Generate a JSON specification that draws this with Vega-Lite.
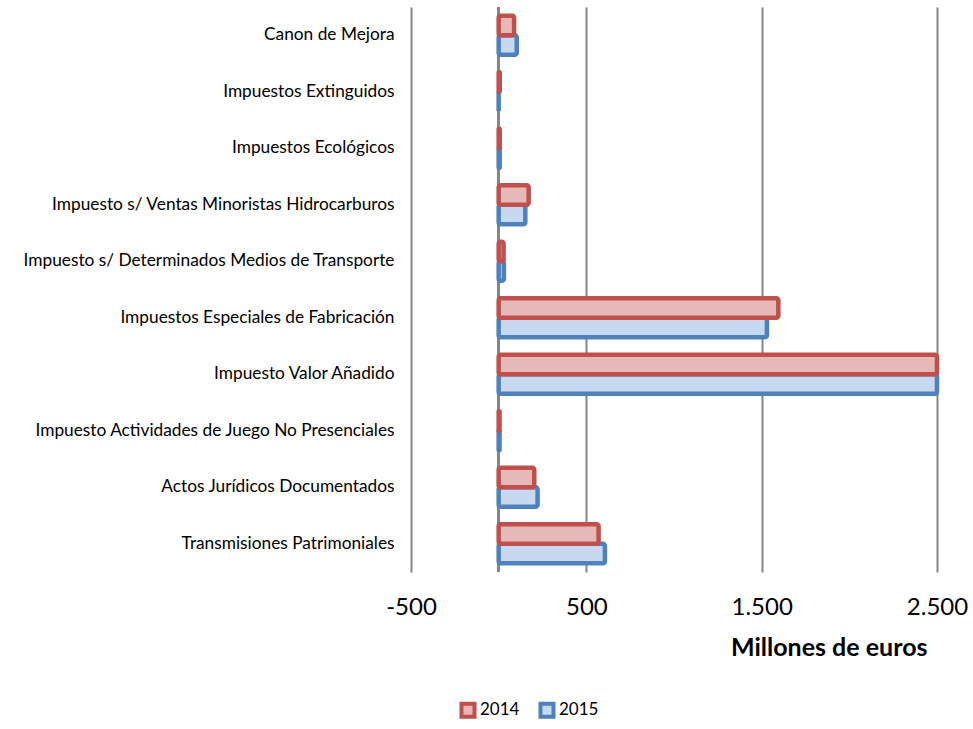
{
  "$schema": "https://vega.github.io/schema/vega-lite/v6.json",
  "width": 526,
  "height": 565,
  "autosize": "none",
  "padding": {"left": 411, "top": 7, "right": 36, "bottom": 157},
  "background": "white",
  "config": {
    "font": "Lato",
    "view": {"stroke": null}
  },
  "data": {
    "values": [
      {"categoria": "Canon de Mejora", "anio": "2015", "valor": 103},
      {"categoria": "Canon de Mejora", "anio": "2014", "valor": 88},
      {"categoria": "Impuestos Extinguidos", "anio": "2015", "valor": 0},
      {"categoria": "Impuestos Extinguidos", "anio": "2014", "valor": 6},
      {"categoria": "Impuestos Ecológicos", "anio": "2015", "valor": 6},
      {"categoria": "Impuestos Ecológicos", "anio": "2014", "valor": 6},
      {"categoria": "Impuesto s/ Ventas Minoristas Hidrocarburos", "anio": "2015", "valor": 152},
      {"categoria": "Impuesto s/ Ventas Minoristas Hidrocarburos", "anio": "2014", "valor": 171},
      {"categoria": "Impuesto s/ Determinados Medios de Transporte", "anio": "2015", "valor": 30},
      {"categoria": "Impuesto s/ Determinados Medios de Transporte", "anio": "2014", "valor": 28},
      {"categoria": "Impuestos Especiales de Fabricación", "anio": "2015", "valor": 1530},
      {"categoria": "Impuestos Especiales de Fabricación", "anio": "2014", "valor": 1595},
      {"categoria": "Impuesto Valor Añadido", "anio": "2015", "valor": 2950},
      {"categoria": "Impuesto Valor Añadido", "anio": "2014", "valor": 2900},
      {"categoria": "Impuesto Actividades de Juego No Presenciales", "anio": "2015", "valor": 5},
      {"categoria": "Impuesto Actividades de Juego No Presenciales", "anio": "2014", "valor": 5},
      {"categoria": "Actos Jurídicos Documentados", "anio": "2015", "valor": 222},
      {"categoria": "Actos Jurídicos Documentados", "anio": "2014", "valor": 203},
      {"categoria": "Transmisiones Patrimoniales", "anio": "2015", "valor": 606},
      {"categoria": "Transmisiones Patrimoniales", "anio": "2014", "valor": 570}
    ]
  },
  "layer": [
    {
      "mark": {"type": "rule", "color": "#868686", "strokeWidth": 2},
      "encoding": {"x": {"datum": 0, "type": "quantitative"}}
    },
    {
      "mark": {"type": "bar", "strokeWidth": 4.5, "cornerRadius": 2, "fillOpacity": 1},
      "encoding": {
        "y": {
          "field": "categoria",
          "type": "nominal",
          "sort": null,
          "scale": {"paddingInner": 0.31, "paddingOuter": 0.155},
          "axis": {
            "title": null,
            "ticks": false,
            "domain": false,
            "labelPadding": 17,
            "labelFontSize": 17.3,
            "labelColor": "#000000",
            "labelLimit": 500
          }
        },
        "yOffset": {
          "field": "anio",
          "type": "nominal",
          "sort": ["2014", "2015"],
          "scale": {"paddingInner": 0, "paddingOuter": 0}
        },
        "x": {
          "field": "valor",
          "type": "quantitative",
          "stack": null,
          "scale": {"domain": [-500, 2500], "nice": false, "zero": false, "clamp": true},
          "axis": {
            "values": [-500, 500, 1500, 2500],
            "labelExpr": "replace(replace(format(datum.value, ','), ',', '.'), '\u2212', '-')",
            "labelFlush": false,
            "labelFontSize": 24,
            "labelColor": "#000000",
            "labelPadding": 23,
            "ticks": false,
            "domain": false,
            "grid": true,
            "gridColor": "#868686",
            "gridWidth": 2,
            "gridOpacity": 1,
            "title": "Millones de euros",
            "titleFontSize": 25,
            "titleFontWeight": "bold",
            "titleColor": "#000000",
            "titleAlign": "right",
            "titleAnchor": null,
            "titleX": 516,
            "titleY": 75,
            "titleBaseline": "middle"
          }
        },
        "fill": {
          "field": "anio",
          "type": "nominal",
          "scale": {"domain": ["2014", "2015"], "range": ["#E6B9B8", "#C6D9F1"]},
          "legend": {
            "title": null,
            "orient": "none",
            "direction": "horizontal",
            "legendX": 48,
            "legendY": 694,
            "symbolType": "square",
            "symbolSize": 170,
            "symbolStrokeWidth": 4,
            "labelFontSize": 17,
            "labelColor": "#000000",
            "labelOffset": 3,
            "columnPadding": 12
          }
        },
        "stroke": {
          "field": "anio",
          "type": "nominal",
          "scale": {"domain": ["2014", "2015"], "range": ["#C0504D", "#4F81BD"]},
          "legend": null
        }
      }
    }
  ]
}
